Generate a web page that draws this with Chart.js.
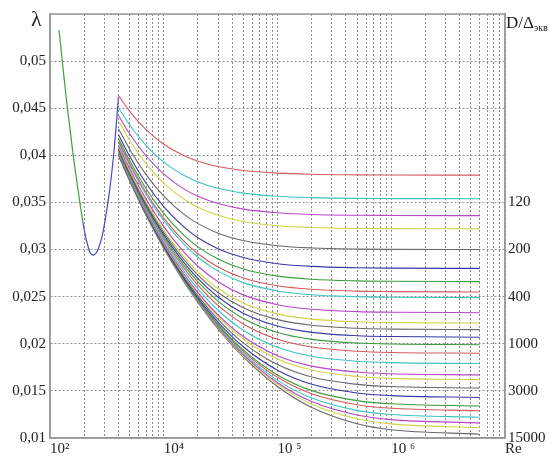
<!DOCTYPE html>
<html>
<head>
<meta charset="utf-8">
<script src="https://cdn.jsdelivr.net/npm/chart.js@4.4.0/dist/chart.umd.min.js"></script>
<style>
  html, body { margin: 0; padding: 0; background: #fff; }
</style>
</head>
<body>
<canvas id="frictionChart" width="549" height="462"></canvas>
<script>
// laminar branch (green) and transition branch (blue)
var reLaminar = [1200, 1400, 1600, 1800, 1950];
var lamLaminar = [0.0533, 0.0457, 0.0400, 0.0356, 0.0328];
var reTransition = [1950, 2070, 2250, 2390, 2590, 2870, 3100, 3370, 3650, 4000];
var lamTransition = [0.0328, 0.0312, 0.0297, 0.0294, 0.0298, 0.0314, 0.0336, 0.0366, 0.0404, 0.0462];

// turbulent curves, one per relative roughness, read at these Re
var reTurb = [4000, 5000, 7000, 1e4, 1.5e4, 2e4, 3e4, 5e4, 1e5, 2e5, 5e5, 1e6, 6e6];
var c01 = [0.04635, 0.04470, 0.04272, 0.04118, 0.03997, 0.03938, 0.03881, 0.03839, 0.03811, 0.03799, 0.03793, 0.03791, 0.0379];
var c02 = [0.04505, 0.04325, 0.04104, 0.03928, 0.03788, 0.03718, 0.03650, 0.03599, 0.03565, 0.03551, 0.03543, 0.03541, 0.0354];
var c03 = [0.04422, 0.04231, 0.03993, 0.03800, 0.03644, 0.03565, 0.03488, 0.03429, 0.03390, 0.03372, 0.03364, 0.03362, 0.0336];
var c04 = [0.04364, 0.04163, 0.03912, 0.03706, 0.03536, 0.03449, 0.03364, 0.03298, 0.03253, 0.03234, 0.03224, 0.03222, 0.0322];
var c05 = [0.04282, 0.04068, 0.03796, 0.03568, 0.03376, 0.03275, 0.03174, 0.03096, 0.03041, 0.03017, 0.03005, 0.03002, 0.0300];
var c06 = [0.04218, 0.03994, 0.03704, 0.03455, 0.03241, 0.03126, 0.03009, 0.02916, 0.02850, 0.02821, 0.02807, 0.02803, 0.0280];
var c07 = [0.04179, 0.03948, 0.03646, 0.03384, 0.03154, 0.03029, 0.02899, 0.02793, 0.02718, 0.02685, 0.02668, 0.02663, 0.0266];
var c08 = [0.04152, 0.03916, 0.03605, 0.03333, 0.03090, 0.02956, 0.02815, 0.02699, 0.02616, 0.02578, 0.02559, 0.02554, 0.0255];
var c09 = [0.04139, 0.03900, 0.03585, 0.03307, 0.03057, 0.02918, 0.02771, 0.02649, 0.02561, 0.02520, 0.02500, 0.02494, 0.0249];
var c10 = [0.04107, 0.03862, 0.03535, 0.03243, 0.02975, 0.02823, 0.02659, 0.02519, 0.02415, 0.02366, 0.02341, 0.02335, 0.0233];
var c11 = [0.04088, 0.03839, 0.03505, 0.03204, 0.02924, 0.02764, 0.02587, 0.02434, 0.02317, 0.02262, 0.02233, 0.02225, 0.0222];
var c12 = [0.04077, 0.03826, 0.03488, 0.03182, 0.02895, 0.02729, 0.02544, 0.02382, 0.02256, 0.02196, 0.02164, 0.02156, 0.0215];
var c13 = [0.04066, 0.03813, 0.03470, 0.03158, 0.02863, 0.02691, 0.02497, 0.02324, 0.02188, 0.02121, 0.02086, 0.02077, 0.0207];
var c14 = [0.04056, 0.03800, 0.03454, 0.03136, 0.02834, 0.02656, 0.02453, 0.02269, 0.02120, 0.02047, 0.02008, 0.01997, 0.0199];
var c15 = [0.04046, 0.03788, 0.03438, 0.03115, 0.02805, 0.02620, 0.02407, 0.02210, 0.02047, 0.01965, 0.01921, 0.01908, 0.0190];
var c16 = [0.04036, 0.03776, 0.03421, 0.03092, 0.02773, 0.02580, 0.02356, 0.02143, 0.01962, 0.01867, 0.01815, 0.01800, 0.0179];
var c17 = [0.04026, 0.03764, 0.03405, 0.03070, 0.02743, 0.02543, 0.02307, 0.02077, 0.01873, 0.01763, 0.01700, 0.01682, 0.0167];
var c18 = [0.04023, 0.03760, 0.03400, 0.03063, 0.02732, 0.02530, 0.02288, 0.02051, 0.01838, 0.01721, 0.01653, 0.01633, 0.0162];
var c19 = [0.04018, 0.03753, 0.03391, 0.03050, 0.02715, 0.02508, 0.02258, 0.02009, 0.01779, 0.01647, 0.01569, 0.01546, 0.0153];
var c20 = [0.04012, 0.03747, 0.03382, 0.03039, 0.02699, 0.02487, 0.02230, 0.01968, 0.01719, 0.01570, 0.01478, 0.01450, 0.0143];
var c21 = [0.04009, 0.03742, 0.03376, 0.03030, 0.02686, 0.02471, 0.02207, 0.01936, 0.01669, 0.01503, 0.01397, 0.01363, 0.0134];
var c22 = [0.04007, 0.03740, 0.03373, 0.03026, 0.02680, 0.02464, 0.02197, 0.01920, 0.01644, 0.01469, 0.01353, 0.01316, 0.0129];
var c23 = [0.04005, 0.03738, 0.03369, 0.03021, 0.02673, 0.02454, 0.02184, 0.01900, 0.01612, 0.01424, 0.01293, 0.01250, 0.0122];
var c24 = [0.04003, 0.03736, 0.03367, 0.03018, 0.02668, 0.02448, 0.02174, 0.01885, 0.01587, 0.01387, 0.01244, 0.01195, 0.0116];
var c25 = [0.04002, 0.03734, 0.03365, 0.03015, 0.02664, 0.02443, 0.02167, 0.01874, 0.01569, 0.01359, 0.01204, 0.01150, 0.0111];
var c26 = [0.04001, 0.03733, 0.03363, 0.03012, 0.02659, 0.02437, 0.02158, 0.01861, 0.01546, 0.01323, 0.01151, 0.01087, 0.0104];
var turbCurves = [c01, c02, c03, c04, c05, c06, c07, c08, c09, c10, c11, c12, c13,
                  c14, c15, c16, c17, c18, c19, c20, c21, c22, c23, c24, c25, c26];

// axes
var xGridValues = [1000, 2000, 3000, 4000, 5000, 6000, 7000, 8000, 9000,
                   1e4, 2e4, 3e4, 4e4, 5e4, 6e4, 7e4, 8e4, 9e4,
                   1e5, 2e5, 3e5, 4e5, 5e5, 6e5, 7e5, 8e5, 9e5,
                   1e6, 2e6, 3e6, 4e6, 5e6, 6e6, 7e6, 8e6, 9e6, 1e7];
var xLabelValues = [1000, 1e4, 1e5, 1e6, 1e7];
var xLabelTexts = ['10\u00B2', '10\u2074', '10 \u2075', '10 \u2076', 'Re'];
var roughTickValues = [0.035, 0.03, 0.025, 0.02, 0.015, 0.01];
var roughTickTexts = ['120', '200', '400', '1000', '3000', '15000'];

var lineColors = ['#d25c5c', '#3fc3c3', '#b648c6', '#d0d448', '#686868', '#3838a6', '#3c9c3c'];

function pairs(xs, ys) {
    return xs.map(function(x, i) { return { x: x, y: ys[i] }; });
}

var datasets = [];
turbCurves.forEach(function(curve, i) {
    datasets.push({
        data: pairs(reTurb, curve),
        borderColor: lineColors[i % lineColors.length],
        borderWidth: 1.1,
        pointRadius: 0,
        cubicInterpolationMode: 'monotone',
        fill: false
    });
});
datasets.push({
    data: pairs(reTransition, lamTransition),
    borderColor: '#4a4ac0',
    borderWidth: 1.2,
    pointRadius: 0,
    cubicInterpolationMode: 'monotone',
    fill: false
});
datasets.push({
    data: pairs(reLaminar, lamLaminar),
    borderColor: '#3f9f3f',
    borderWidth: 1.2,
    pointRadius: 0,
    cubicInterpolationMode: 'monotone',
    fill: false
});

var gridColor = '#8c8c8c';
var frameColor = '#9a9a9a';
var serif = "'Liberation Serif', 'DejaVu Serif', serif";

// frame on all four sides plus the lambda and D/Δэкв captions
var extrasPlugin = {
    id: 'extras',
    afterDraw: function(chart) {
        var ctx = chart.ctx;
        var a = chart.chartArea;
        ctx.save();
        ctx.strokeStyle = frameColor;
        ctx.lineWidth = 1.5;
        ctx.strokeRect(a.left, a.top, a.right - a.left, a.bottom - a.top);

        ctx.fillStyle = '#222';
        ctx.textBaseline = 'alphabetic';
        ctx.textAlign = 'left';
        ctx.font = '22px ' + serif;
        ctx.fillText('\u03BB', 31, 26);

        ctx.font = '17px ' + serif;
        ctx.fillText('D/\u0394', 506, 28);
        var w = ctx.measureText('D/\u0394').width;
        ctx.font = '10px ' + serif;
        ctx.fillText('\u044D\u043A\u0432', 506 + w, 31);
        ctx.restore();
    }
};

var ctx = document.getElementById('frictionChart').getContext('2d');
var frictionChart = new Chart(ctx, {
    type: 'line',
    data: { datasets: datasets },
    plugins: [extrasPlugin],
    options: {
        responsive: false,
        animation: false,
        layout: { padding: { top: 14, left: 0, right: 0, bottom: 0 } },
        plugins: {
            legend: { display: false },
            tooltip: { enabled: false }
        },
        scales: {
            x: {
                type: 'logarithmic',
                min: 1000,
                max: 1e7,
                afterBuildTicks: function(scale) {
                    scale.ticks = xGridValues.map(function(v) { return { value: v }; });
                },
                afterFit: function(scale) { scale.height = 24; },
                grid: { color: gridColor, lineWidth: 1, drawTicks: false },
                border: { color: frameColor, width: 1.5, dash: [2, 2] },
                ticks: {
                    autoSkip: false,
                    maxRotation: 0,
                    align: 'start',
                    padding: 2,
                    color: '#222',
                    font: { family: serif, size: 15 },
                    callback: function(value) {
                        var i = xLabelValues.indexOf(value);
                        return i >= 0 ? xLabelTexts[i] : '';
                    }
                }
            },
            y: {
                type: 'linear',
                position: 'left',
                min: 0.01,
                max: 0.055,
                afterFit: function(scale) { scale.width = 50; },
                grid: { color: gridColor, lineWidth: 1, drawTicks: false },
                border: { color: frameColor, width: 1.5, dash: [2, 2] },
                ticks: {
                    stepSize: 0.005,
                    padding: 4,
                    color: '#222',
                    font: { family: serif, size: 15 },
                    callback: function(value) {
                        var v = Math.round(value * 1000) / 1000;
                        if (v > 0.0505) return '';
                        return String(v).replace('.', ',');
                    }
                }
            },
            y1: {
                type: 'linear',
                position: 'right',
                min: 0.01,
                max: 0.055,
                afterFit: function(scale) { scale.width = 44; },
                grid: { display: false, drawTicks: false },
                border: { color: frameColor, width: 1.5 },
                ticks: {
                    stepSize: 0.005,
                    padding: 3,
                    color: '#222',
                    font: { family: serif, size: 15 },
                    callback: function(value) {
                        for (var i = 0; i < roughTickValues.length; i++) {
                            if (Math.abs(roughTickValues[i] - value) < 1e-6) return roughTickTexts[i];
                        }
                        return '';
                    }
                }
            }
        }
    }
});
</script>
</body>
</html>
